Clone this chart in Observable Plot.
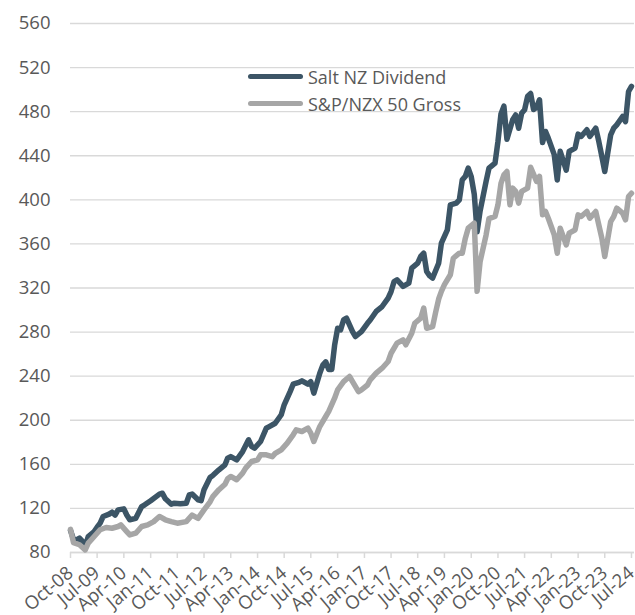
<!DOCTYPE html>
<html><head><meta charset="utf-8">
<script src="https://cdn.jsdelivr.net/npm/d3@7"></script>
<script src="https://cdn.jsdelivr.net/npm/@observablehq/plot@0.6"></script>
<style>
body{margin:0;background:#fff;font-family:"Open Sans",sans-serif;}
#wrap{position:relative;width:635px;height:615px;}
.legend{position:absolute;left:248px;top:63px;font-size:18px;color:#595959;line-height:1;}
.item{display:flex;align-items:center;height:27px;}
.swatch{width:55px;height:5px;border-radius:3px;margin-right:5px;}
</style></head><body><div id="wrap"></div>
<script>
const seriesNames = ["Salt NZ Dividend", "S&P/NZX 50 Gross"];
const seriesColors = ["#3c5566", "#a6a6a6"];

const saltDates = ["2008-10","2008-11","2008-12","2009-01","2009-02","2009-03","2009-04","2009-06","2009-07","2009-08","2009-09","2009-11","2009-12","2010-01","2010-02","2010-04","2010-05","2010-06","2010-08","2010-10","2010-11","2011-01","2011-04","2011-05","2011-06","2011-08","2011-09","2011-11","2012-01","2012-02","2012-03","2012-05","2012-06","2012-07","2012-09","2012-10","2012-12","2013-02","2013-03","2013-04","2013-06","2013-08","2013-10","2013-11","2013-12","2014-02","2014-04","2014-05","2014-07","2014-09","2014-10","2014-12","2015-01","2015-03","2015-04","2015-06","2015-07","2015-08","2015-10","2015-11","2015-12","2016-01","2016-02","2016-03","2016-04","2016-05","2016-06","2016-07","2016-09","2016-10","2016-12","2017-02","2017-03","2017-05","2017-07","2017-09","2017-10","2017-11","2017-12","2018-02","2018-04","2018-05","2018-07","2018-08","2018-09","2018-10","2018-11","2018-12","2019-02","2019-03","2019-05","2019-06","2019-08","2019-09","2019-10","2019-11","2019-12","2020-01","2020-02","2020-03","2020-04","2020-06","2020-07","2020-09","2020-10","2020-11","2020-12","2021-01","2021-03","2021-04","2021-05","2021-06","2021-07","2021-08","2021-09","2021-10","2021-11","2021-12","2022-01","2022-02","2022-03","2022-05","2022-06","2022-07","2022-09","2022-10","2022-12","2023-01","2023-02","2023-04","2023-05","2023-07","2023-08","2023-09","2023-10","2023-12","2024-01","2024-02","2024-04","2024-05","2024-06","2024-07"];
const saltValues = [100,92,91.5,93,90,85.5,94.5,99,103,106.6,112.7,114.8,116.6,114,118.7,119.6,114,109.7,111,121.7,123.3,127,133,133.8,128.7,123.8,124.7,124.2,124.7,132.3,133,127.8,127,137,148,150,155,159.6,165.6,167,164,171.6,182.3,176.2,174.6,180.7,192.8,194.3,197.3,205,214,226,232.7,234.3,235.8,232.7,235,224.6,242.7,250,253,246,246,268,283.5,282,291,292.6,280.5,276,280.5,288,291,298.7,303.2,310.8,316.8,325.9,327.5,321.4,324.4,338,342.5,348.6,351.6,335,331,329,342.5,360.7,372.8,395.5,397,400,418.2,421.2,428.7,421,405,371,390,416.7,428.7,433.3,453,478,485,455,472.6,477,465,478.6,481.7,494,496.5,482,484,490.8,452,462,456,441,418,444,427,444,447,459.6,457.5,463.6,457.5,465,453,439.4,425.7,459,465,468,475.6,471,498.3,503];

const nzxDates = ["2008-10","2008-11","2009-01","2009-03","2009-04","2009-06","2009-08","2009-10","2009-12","2010-02","2010-03","2010-05","2010-06","2010-08","2010-10","2010-12","2011-02","2011-04","2011-06","2011-08","2011-10","2012-01","2012-03","2012-05","2012-07","2012-09","2012-10","2012-12","2013-02","2013-03","2013-04","2013-06","2013-08","2013-09","2013-11","2014-01","2014-02","2014-04","2014-06","2014-07","2014-09","2014-11","2015-01","2015-02","2015-04","2015-06","2015-07","2015-08","2015-10","2015-12","2016-01","2016-03","2016-04","2016-06","2016-08","2016-09","2016-11","2016-12","2017-02","2017-03","2017-05","2017-07","2017-09","2017-10","2017-12","2018-02","2018-03","2018-05","2018-06","2018-08","2018-09","2018-10","2018-12","2019-01","2019-02","2019-03","2019-04","2019-06","2019-07","2019-09","2019-10","2019-11","2019-12","2020-02","2020-03","2020-04","2020-06","2020-07","2020-09","2020-10","2020-11","2020-12","2021-01","2021-02","2021-03","2021-04","2021-05","2021-06","2021-08","2021-09","2021-11","2021-12","2022-01","2022-02","2022-03","2022-05","2022-06","2022-07","2022-09","2022-10","2022-12","2023-01","2023-02","2023-04","2023-05","2023-07","2023-08","2023-09","2023-10","2023-12","2024-01","2024-02","2024-04","2024-05","2024-06","2024-07"];
const nzxValues = [101,89,87,82.4,88.5,94.5,100.6,102.7,102,103.6,105,99,96,97.5,103.6,105,108,112.7,109.7,108,106.6,108,114,111,118.7,126,131,137,142,147,149,146,152,156.5,162.6,164,168.6,168.6,167,170,173.2,179.2,186.8,191.3,189.8,192.8,188.3,180.7,194.3,203.4,208,220,227.6,235,239.7,235,226,227.6,232,236.7,242.7,247.2,253.3,260.8,270,273,268.5,279,288,292.6,301.7,283.5,285,298,310,317,323,332,347,351.6,351.6,365,374.3,378.8,317,344,368,383,385,395.5,415,422.7,425.7,395.5,410.6,407.6,397,407.6,410.6,429.5,416.7,421.2,386.4,389.4,383.3,368.3,351.6,374.3,359.2,369.7,372.8,386.4,384.9,389.4,383.3,389.4,377.3,365.2,348.6,380.3,384.9,392.4,387.9,381.9,403,406];

const yTicks = [80,120,160,200,240,280,320,360,400,440,480,520,560];
const xTickLabels = ["Oct-08","Jul-09","Apr-10","Jan-11","Oct-11","Jul-12","Apr-13","Jan-14","Oct-14","Jul-15","Apr-16","Jan-17","Oct-17","Jul-18","Apr-19","Jan-20","Oct-20","Jul-21","Apr-22","Jan-23","Oct-23","Jul-24"];
const xDomain = ["2008-10","2024-08"];

const pMonth = d3.utcParse("%Y-%m");
const pLabel = d3.utcParse("%b-%y");
const fLabel = d3.utcFormat("%b-%y");

const salt = saltDates.map((d,i)=>({date:pMonth(d), value:saltValues[i]}));
const nzx = nzxDates.map((d,i)=>({date:pMonth(d), value:nzxValues[i]}));
const xTicks = xTickLabels.map(pLabel);

const chart = Plot.plot({
  width: 635,
  height: 615,
  marginLeft: 70,
  marginRight: 1,
  marginTop: 23,
  marginBottom: 63,
  style: {fontFamily: "'Open Sans', sans-serif", fontSize: "18px", color: "#595959", background: "#fff", overflow: "visible"},
  x: {type: "utc", domain: xDomain.map(pMonth)},
  y: {domain: [80, 560]},
  marks: [
    Plot.gridY(yTicks, {stroke: "#d9d9d9", strokeOpacity: 1, strokeWidth: 1.3}),
    Plot.ruleY([80], {stroke: "#d9d9d9", strokeWidth: 1.5}),
    Plot.axisY(yTicks, {tickSize: 0, tickPadding: 20, fontSize: 18.5, fill: "#595959", label: null}),
    Plot.axisX(xTicks, {tickSize: 6, tickPadding: 12, tickRotate: -40, tickFormat: fLabel, fontSize: 18.5, stroke: "#d9d9d9", fill: "#595959", strokeWidth: 1.5, label: null}),
    Plot.lineY(salt, {x: "date", y: "value", stroke: seriesColors[0], strokeWidth: 5.5, strokeLinejoin: "round", strokeLinecap: "round"}),
    Plot.lineY(nzx, {x: "date", y: "value", stroke: seriesColors[1], strokeWidth: 5.5, strokeLinejoin: "round", strokeLinecap: "round"})
  ]
});

const wrap = document.getElementById("wrap");
wrap.appendChild(chart);
const legend = document.createElement("div");
legend.className = "legend";
seriesNames.forEach((n,i)=>{
  const it = document.createElement("div"); it.className = "item";
  const sw = document.createElement("span"); sw.className = "swatch"; sw.style.background = seriesColors[i];
  const tx = document.createElement("span"); tx.textContent = n;
  it.appendChild(sw); it.appendChild(tx); legend.appendChild(it);
});
wrap.appendChild(legend);
</script></body></html>
